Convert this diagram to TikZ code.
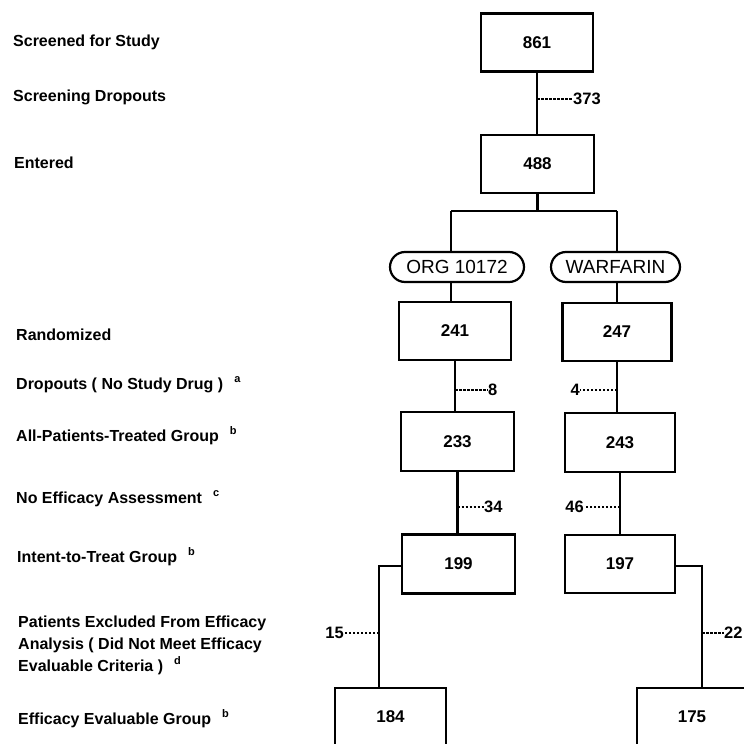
\documentclass[tikz,border=0pt]{standalone}
\usepackage{fontspec}
\setmainfont{Liberation Sans}
\usetikzlibrary{calc}
\begin{document}
\begin{tikzpicture}[x=1pt,y=-1pt,
  numbox/.style={draw, line width=2.5pt, inner sep=0pt, minimum width=112pt, minimum height=58pt,
     font=\fontsize{17}{18}\selectfont\bfseries},
  armbox/.style={draw, line width=2.2pt, rounded corners=15pt, inner sep=0pt, minimum height=30pt,
     font=\fontsize{19}{20}\selectfont},
  rowlab/.style={anchor=west, inner sep=0pt, align=left, font=\fontsize{16}{22}\selectfont\bfseries},
  cnt/.style={inner sep=0pt, font=\fontsize{16.5}{18}\selectfont\bfseries},
  conn/.style={line width=2.4pt},
  tick/.style={line width=1.3pt, dash pattern=on 2.5pt off 1.5pt}
]
\clip (0,0) rectangle (744,744);
\fill[white] (0,0) rectangle (744,744);
\newcommand{\supmark}[1]{\hspace{11pt}\raisebox{7pt}{\fontsize{11}{11}\selectfont\bfseries #1}}

% row labels
\node[rowlab] (l1) at (13,42) {Screened for Study};
\node[rowlab] (l2) at (13,97) {Screening Dropouts};
\node[rowlab] (l3) at (14,163) {Entered};
\node[rowlab] (l4) at (16,335) {Randomized};
\node[rowlab] (l5) at (16,385) {Dropouts ( No Study Drug )\supmark{a}};
\node[rowlab] (l6) at (16,436) {All-Patients-Treated Group\supmark{b}};
\node[rowlab] (l7) at (16,499) {No Efficacy Assessment\supmark{c}};
\node[rowlab] (l8) at (17,557) {Intent-to-Treat Group\supmark{b}};
\node[rowlab] (l9) at (18,645) {Patients Excluded From Efficacy\\Analysis ( Did Not Meet Efficacy\\Evaluable Criteria )\supmark{d}};
\node[rowlab] (l10) at (18,719) {Efficacy Evaluable Group\supmark{b}};

% boxes
\node[numbox] (b861) at (537,42.5) {861};
\node[numbox, minimum width=113pt] (b488) at (537.5,164) {488};
\node[armbox, minimum width=134pt] (org) at (457,267) {ORG 10172};
\node[armbox, minimum width=129pt] (war) at (615.5,267) {WARFARIN};
\node[numbox] (b241) at (455,331) {241};
\node[numbox, minimum width=109pt] (b247) at (617,332) {247};
\node[numbox, minimum width=113pt, minimum height=59pt] (b233) at (457.5,441.5) {233};
\node[numbox, minimum width=110pt, minimum height=59pt] (b243) at (620,442.5) {243};
\node[numbox, minimum width=113pt, minimum height=59pt] (b199) at (458.5,564) {199};
\node[numbox, minimum width=110pt] (b197) at (620,564) {197};
\node[numbox, minimum width=111pt] (b184) at (390.5,717) {184};
\node[numbox, minimum width=110pt] (b175) at (692,717) {175};

% connectors
\coordinate (split) at (538,211);
\coordinate (sl) at (451,211);
\coordinate (sr) at (617,211);
\coordinate (cl) at (379,566);
\coordinate (cr) at (702,566);

\draw[conn] (b861.south) -- (b861.south |- b488.north);
\draw[conn] (b488.south) -- (b488.south |- split);
\draw[conn] (sl) -- (sr);
\draw[conn] (sl) -- (sl |- org.north);
\draw[conn] (sr) -- (sr |- war.north);
\draw[conn] (org.south -| sl) -- (sl |- b241.north);
\draw[conn] (war.south -| sr) -- (sr |- b247.north);
\draw[conn] (b241.south) -- (b241.south |- b233.north);
\draw[conn] (b247.south) -- (b247.south |- b243.north);
\draw[conn] (b233.south) -- (b233.south |- b199.north);
\draw[conn] (b243.south) -- (b243.south |- b197.north);
\draw[conn] (b199.west |- cl) -- (cl) -- (cl |- b184.north);
\draw[conn] (b197.east |- cr) -- (cr) -- (cr |- b175.north);

% dropout counts
\node[cnt, anchor=west] (d373) at (573,99) {373};
\node[cnt, anchor=west] (d8) at (488,390) {8};
\node[cnt, anchor=east] (d4) at (580,390) {4};
\node[cnt, anchor=west] (d34) at (484,507) {34};
\node[cnt, anchor=east] (d46) at (584,507) {46};
\node[cnt, anchor=east] (d15) at (344,633) {15};
\node[cnt, anchor=west] (d22) at (724,633) {22};

\draw[tick] (d373.west -| b861.south) -- (d373.west);
\draw[tick] (d8.west -| b241.south) -- (d8.west);
\draw[tick] (d4.east -| b247.south) -- (d4.east);
\draw[tick] (d34.west -| b233.south) -- (d34.west);
\draw[tick] (d46.east -| b243.south) -- (d46.east);
\draw[tick] (d15.east -| cl) -- (d15.east);
\draw[tick] (d22.west -| cr) -- (d22.west);
\end{tikzpicture}
\end{document}
